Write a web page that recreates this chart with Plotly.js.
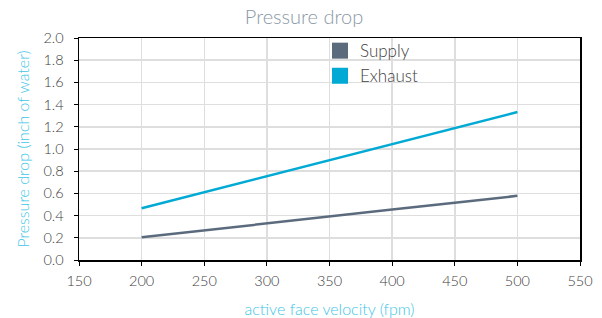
<!DOCTYPE html>
<html>
<head>
<meta charset="utf-8">
<script src="https://cdn.plot.ly/plotly-3.0.1.min.js"></script>
<style>html,body{margin:0;padding:0;background:#fff;}#chart{width:602px;height:318px;}</style>
</head>
<body>
<div id="chart"></div>
<script>
var velocity = [200, 250, 300, 350, 400, 450, 500];
var supply = [0.204, 0.268, 0.332, 0.394, 0.455, 0.516, 0.578];
var exhaust = [0.466, 0.61, 0.755, 0.90, 1.044, 1.189, 1.333];
var seriesNames = ['Supply', 'Exhaust'];
var seriesColors = ['#5b6b7d', '#00aad4'];

var traces = [
  {x: velocity, y: supply, mode: 'lines', line: {color: seriesColors[0], width: 2.5}, showlegend: false, hoverinfo: 'none'},
  {x: velocity, y: exhaust, mode: 'lines', line: {color: seriesColors[1], width: 2.5}, showlegend: false, hoverinfo: 'none'},
  {x: [null], y: [null], mode: 'markers', name: seriesNames[0], marker: {symbol: 'square', size: 20, color: seriesColors[0]}},
  {x: [null], y: [null], mode: 'markers', name: seriesNames[1], marker: {symbol: 'square', size: 20, color: seriesColors[1]}}
];

var layout = {
  width: 602, height: 318,
  margin: {l: 79, r: 22, t: 38, b: 58},
  paper_bgcolor: '#fff', plot_bgcolor: '#fff',
  font: {family: 'Lato, sans-serif', color: '#444', weight: 300},
  title: {text: 'Pressure drop', font: {size: 20, color: '#8a98a6', weight: 300}, x: 0.505, xanchor: 'center', y: 0.970, yanchor: 'top'},
  xaxis: {
    range: [150, 550], dtick: 50, tick0: 150,
    showgrid: true, gridcolor: '#dedede', gridwidth: 1.5,
    showline: true, linecolor: '#000', linewidth: 1.5, mirror: true,
    ticks: 'outside', ticklen: 4, tickcolor: '#000',
    ticklabelstandoff: 3,
    tickfont: {size: 14.5, color: '#404040', weight: 300},
    zeroline: false,
    title: {text: 'active face velocity (fpm)', font: {size: 16, color: '#3ec5e6', weight: 300}, standoff: 16}
  },
  yaxis: {
    range: [0, 2.0], dtick: 0.2, tickformat: '.1f',
    showgrid: true, gridcolor: '#dedede', gridwidth: 1.5,
    showline: true, linecolor: '#000', linewidth: 1.5, mirror: true,
    ticks: 'outside', ticklen: 4, tickcolor: '#000',
    ticklabelstandoff: 7,
    tickfont: {size: 14.5, color: '#404040', weight: 300},
    zeroline: false,
    title: {text: 'Pressure drop (inch of water)', font: {size: 16, color: '#3ec5e6', weight: 300}, standoff: 10}
  },
  legend: {x: 0.481, y: 1.022, xanchor: 'left', yanchor: 'top', bgcolor: 'rgba(0,0,0,0)', font: {size: 17, color: '#404040', weight: 300}, itemsizing: 'trace'},
  showlegend: true
};

Plotly.newPlot('chart', traces, layout, {displayModeBar: false, staticPlot: true});
</script>
</body>
</html>
